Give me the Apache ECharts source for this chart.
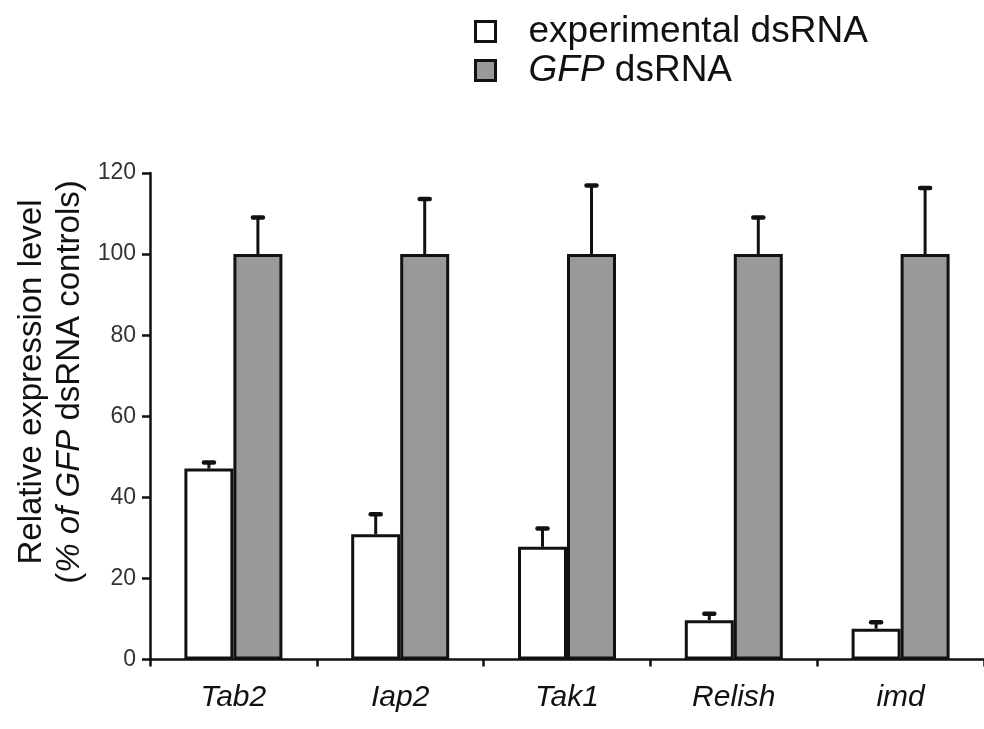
<!DOCTYPE html>
<html>
<head>
<meta charset="utf-8">
<script src="https://cdn.jsdelivr.net/npm/echarts@6/dist/echarts.min.js"></script>
<style>
html,body{margin:0;padding:0;background:#fff;}
#c{width:984px;height:729px;}
</style>
</head>
<body>
<div id="c"></div>
<script>
// ---- data ----
const categories = ['Tab2', 'Iap2', 'Tak1', 'Relish', 'imd'];
const experimental = [47.1, 30.9, 27.8, 9.7, 7.6];
const experimentalErrTop = [48.6, 35.8, 32.3, 11.3, 9.2];
const gfp = [100, 100, 100, 100, 100];
const gfpErrTop = [109.0, 113.6, 116.9, 109.0, 116.3];
const yTicks = [0, 20, 40, 60, 80, 100, 120];

const FONT = '"Liberation Sans", Arial, sans-serif';
const chart = echarts.init(document.getElementById('c'), null, {renderer: 'canvas'});

function errData(tops, vals) {
  return categories.map((c, i) => [i, vals[i], tops[i]]);
}
function errRender(offset) {
  return function (params, api) {
    const base = api.coord([api.value(0), api.value(1)]);
    const top = api.coord([api.value(0), api.value(2)]);
    const x = base[0] + offset;
    return {
      type: 'group',
      children: [
        {type: 'line', shape: {x1: x, y1: base[1], x2: x, y2: top[1]},
         style: {stroke: '#111', lineWidth: 3}},
        {type: 'line', shape: {x1: x - 5, y1: top[1], x2: x + 5, y2: top[1]},
         style: {stroke: '#111', lineWidth: 4.5, lineCap: 'round'}}
      ]
    };
  };
}

const option = {
  backgroundColor: '#ffffff',
  animation: false,
  textStyle: {fontFamily: FONT},
  grid: {left: 150, top: 173, width: 840, height: 486.5},
  legend: {
    orient: 'vertical',
    left: 474,
    top: 13,
    padding: 0,
    itemGap: 2,
    itemWidth: 20,
    itemHeight: 20,
    icon: 'rect',
    itemStyle: {borderColor: '#111', borderWidth: 3},
    data: ['experimental dsRNA', 'GFP dsRNA'],
    formatter: function (name) {
      if (name === 'GFP dsRNA') return '{sp|}{i|GFP}{n| dsRNA}';
      return '{sp|}{n|' + name + '}';
    },
    textStyle: {
      rich: {
        sp: {width: 28, lineHeight: 40},
        n: {fontSize: 37, fontFamily: FONT, color: '#111', lineHeight: 40},
        i: {fontSize: 37, fontFamily: FONT, fontStyle: 'italic', color: '#111', lineHeight: 40}
      }
    }
  },
  xAxis: {
    type: 'category',
    data: categories,
    boundaryGap: true,
    axisLine: {lineStyle: {color: '#111', width: 2.5}},
    axisTick: {show: true, length: 7, inside: false, lineStyle: {color: '#111', width: 2.5}},
    axisLabel: {margin: 23, fontSize: 30, fontStyle: 'italic', color: '#111', fontFamily: FONT},
    splitLine: {show: false}
  },
  yAxis: {
    type: 'value',
    min: 0,
    max: 120,
    interval: 20,
    axisLine: {show: true, lineStyle: {color: '#111', width: 2.5}},
    axisTick: {show: true, length: 8, lineStyle: {color: '#111', width: 2.5}},
    axisLabel: {margin: 14, fontSize: 23, color: '#333', fontFamily: FONT,
      formatter: function (v) { return yTicks.indexOf(v) >= 0 ? String(v) : ''; }},
    splitLine: {show: false}
  },
  graphic: [
    {
      type: 'text',
      x: 51,
      y: 382,
      rotation: Math.PI / 2,
      style: {
        text: '{n|Relative expression level}\n{n|(}{i|% of GFP}{n| dsRNA controls)}',
        align: 'center',
        verticalAlign: 'middle',
        rich: {
          n: {fontSize: 33, fontFamily: FONT, fill: '#111', lineHeight: 38, align: 'center'},
          i: {fontSize: 33, fontFamily: FONT, fontStyle: 'italic', fill: '#111', lineHeight: 38, align: 'center'}
        }
      }
    }
  ],
  series: [
    {
      name: 'experimental dsRNA',
      type: 'bar',
      data: experimental,
      barWidth: 49,
      barGap: '0%',
      itemStyle: {color: '#ffffff', borderColor: '#111', borderWidth: 3},
      z: 2
    },
    {
      name: 'GFP dsRNA',
      type: 'bar',
      data: gfp,
      barWidth: 49,
      barGap: '0%',
      itemStyle: {color: '#999999', borderColor: '#111', borderWidth: 3},
      z: 2
    },
    {
      type: 'custom',
      name: 'expErr',
      renderItem: errRender(-24.5),
      data: errData(experimentalErrTop, experimental),
      encode: {x: 0, y: [1, 2]},
      z: 3,
      silent: true
    },
    {
      type: 'custom',
      name: 'gfpErr',
      renderItem: errRender(24.5),
      data: errData(gfpErrTop, gfp),
      encode: {x: 0, y: [1, 2]},
      z: 3,
      silent: true
    }
  ]
};
chart.setOption(option);
</script>
</body>
</html>
